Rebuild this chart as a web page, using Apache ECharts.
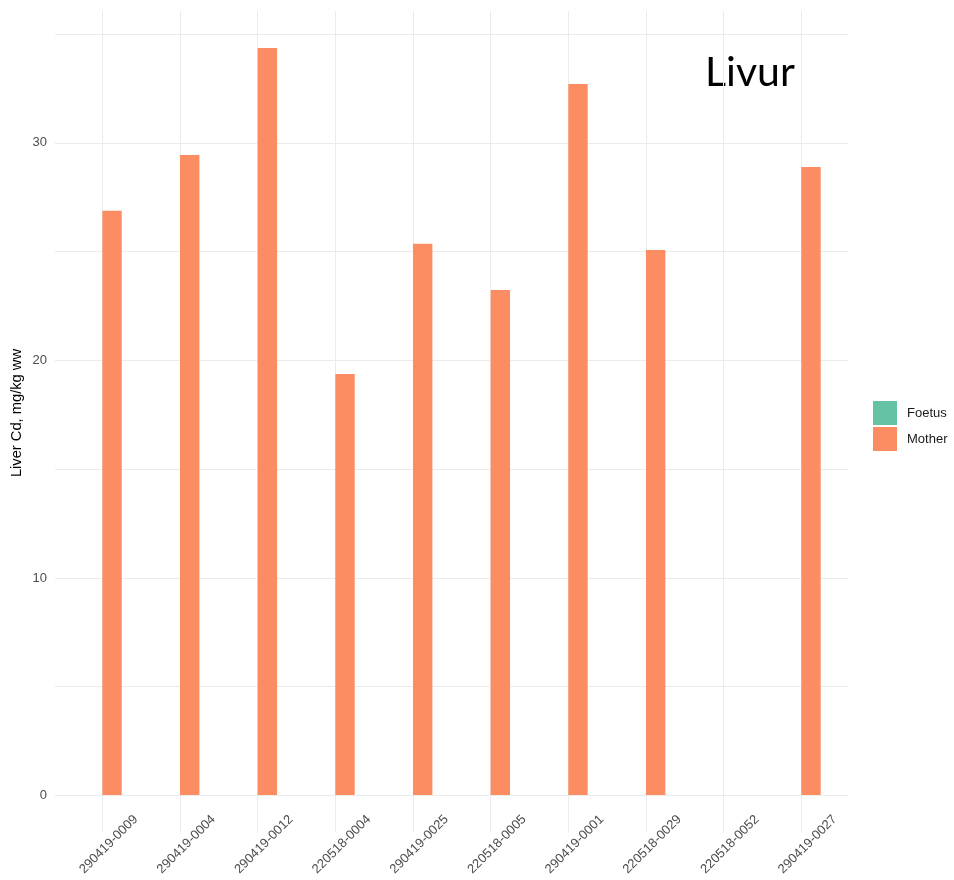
<!DOCTYPE html>
<html>
<head>
<meta charset="utf-8">
<style>
  html, body { margin: 0; padding: 0; background: #ffffff; }
  #chart { width: 954px; height: 880px; }
</style>
<script src="https://cdn.jsdelivr.net/npm/echarts@6/dist/echarts.min.js"></script>
</head>
<body>
<div id="chart"></div>
<script>
const categories = ["290419-0009", "290419-0004", "290419-0012", "220518-0004", "290419-0025",
                    "220518-0005", "290419-0001", "220518-0029", "220518-0052", "290419-0027"];
const foetusValues = [null, null, null, null, null, null, null, null, null, null];
const motherValues = [26.87, 29.44, 34.36, 19.37, 25.35, 23.23, 32.70, 25.07, null, 28.89];
const yTicks = [0, 10, 20, 30];
const seriesNames = ["Foetus", "Mother"];
const seriesColors = ["#66C2A5", "#FC8D62"];
const titleText = "Livur";
const yTitle = "Liver Cd, mg/kg ww";

const Y_MAX = 36.06;
const GRID_COLOR = "#ebebeb";
const TXT = "#4d4d4d";
const FONT = "Liberation Sans, Arial, sans-serif";

const chart = echarts.init(document.getElementById("chart"), null, { renderer: "canvas" });

chart.setOption({
  animation: false,
  backgroundColor: "#ffffff",
  grid: [
    { left: 63.5, right: 113.9, top: 11, bottom: 84.5 },
    { left: 55, right: 106, top: 11, bottom: 84.5 }
  ],
  legend: {
    orient: "vertical",
    left: 873,
    top: 401,
    padding: 0,
    icon: "rect",
    itemWidth: 24,
    itemHeight: 24,
    itemGap: 2,
    data: seriesNames,
    textStyle: { fontFamily: FONT, fontSize: 13, color: "#1a1a1a", padding: [0, 0, 0, 5] }
  },
  xAxis: [
    {
      type: "category",
      gridIndex: 0,
      position: "bottom",
      data: categories,
      axisLine: { show: false },
      axisTick: { show: true, interval: 0, alignWithLabel: true, length: 37.5, lineStyle: { color: GRID_COLOR, width: 1 } },
      axisLabel: {
        rotate: 45,
        interval: 0,
        margin: 43,
        align: "center",
        verticalAlign: "top",
        lineHeight: 18,
        fontFamily: FONT,
        fontSize: 13,
        color: TXT
      },
      splitLine: { show: false }
    },
    {
      type: "category",
      gridIndex: 0,
      position: "top",
      data: categories,
      axisLine: { show: false },
      axisTick: { show: true, interval: 0, inside: true, alignWithLabel: true, length: 784.5, lineStyle: { color: GRID_COLOR, width: 1 } },
      axisLabel: { show: false },
      splitLine: { show: false }
    },
    { type: "value", gridIndex: 1, show: false, min: 0, max: 1 }
  ],
  yAxis: [
    { type: "value", gridIndex: 0, min: 0, max: Y_MAX, show: false, splitLine: { show: false } },
    {
      type: "value",
      gridIndex: 1,
      min: 0,
      max: Y_MAX,
      interval: 5,
      axisLine: { show: false },
      axisTick: { show: false },
      axisLabel: {
        margin: 8,
        fontFamily: FONT,
        fontSize: 13,
        color: TXT,
        formatter: function (v) { return yTicks.indexOf(v) >= 0 ? String(v) : ""; }
      },
      splitLine: { show: true, showMinLine: true, showMaxLine: false, lineStyle: { color: GRID_COLOR, width: 1 } }
    }
  ],
  series: [
    {
      name: seriesNames[0],
      type: "bar",
      xAxisIndex: 0,
      yAxisIndex: 0,
      data: foetusValues,
      barWidth: "25%",
      barGap: "0%",
      itemStyle: { color: seriesColors[0] }
    },
    {
      name: seriesNames[1],
      type: "bar",
      xAxisIndex: 0,
      yAxisIndex: 0,
      data: motherValues,
      barWidth: "25%",
      barGap: "0%",
      itemStyle: { color: seriesColors[1] }
    }
  ],
  graphic: [
    {
      type: "text",
      x: 17,
      y: 413,
      rotation: Math.PI / 2,
      style: {
        text: yTitle,
        fontFamily: FONT,
        fontSize: 14.7,
        fill: "#000000",
        textAlign: "center",
        textVerticalAlign: "middle"
      }
    },
    {
      type: "text",
      x: 705,
      y: 73,
      style: {
        text: titleText,
        fontFamily: "Lato, Open Sans, sans-serif",
        fontSize: 41,
        fill: "#000000",
        textAlign: "left",
        textVerticalAlign: "middle"
      }
    }
  ]
});
</script>
</body>
</html>
